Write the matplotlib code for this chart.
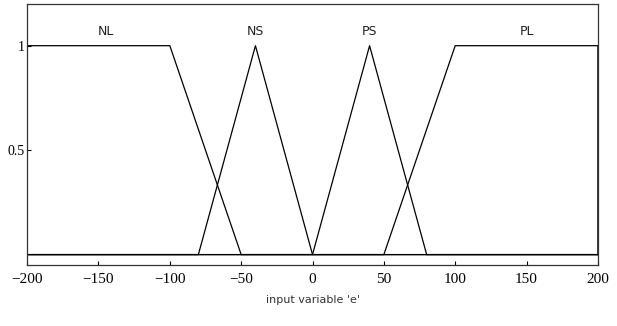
import numpy as np
import matplotlib.pyplot as plt

# membership functions of input variable 'e'
mf_names = ['NL', 'NS', 'PS', 'PL']
mf_x = [
    [-200, -200, -100, -50, 200],
    [-200, -80, -40, 0, 200],
    [-200, 0, 40, 80, 200],
    [-200, 50, 100, 200, 200],
]
mf_y = [
    [0, 1, 1, 0, 0],
    [0, 0, 1, 0, 0],
    [0, 0, 1, 0, 0],
    [0, 0, 1, 1, 0],
]
label_x = [-145, -40, 40, 150]

xticks = [-200, -150, -100, -50, 0, 50, 100, 150, 200]
yticks = [0.5, 1]
ytick_labels = ['0.5', '1']

fig = plt.figure(figsize=(6.17, 3.26), dpi=100)
ax = fig.add_axes([0.044, 0.187, 0.925, 0.801])

for xs, ys in zip(mf_x, mf_y):
    ax.plot(xs, ys, color='black', linewidth=0.9)

for name, lx in zip(mf_names, label_x):
    ax.text(lx, 1.035, name, ha='center', va='bottom', fontsize=9,
            family='DejaVu Sans', color='#222222')

ax.set_xlim(-200, 200)
ax.set_ylim(-0.05, 1.2)
ax.set_xticks(xticks)
ax.set_xticklabels([str(t).replace('-', '\u2212') for t in xticks],
                   family='Liberation Serif', fontsize=11)
ax.set_yticks(yticks)
ax.set_yticklabels(ytick_labels, family='Liberation Serif', fontsize=10)
ax.tick_params(direction='in', length=3, width=0.8, pad=6)
ax.tick_params(axis='y', pad=2)
for s in ax.spines.values():
    s.set_linewidth(0.9)
    s.set_color('#333333')

ax.set_xlabel("input variable 'e'", fontsize=8, family='DejaVu Sans',
              color='#333333', labelpad=6)

fig.savefig('out.png', dpi=100)
